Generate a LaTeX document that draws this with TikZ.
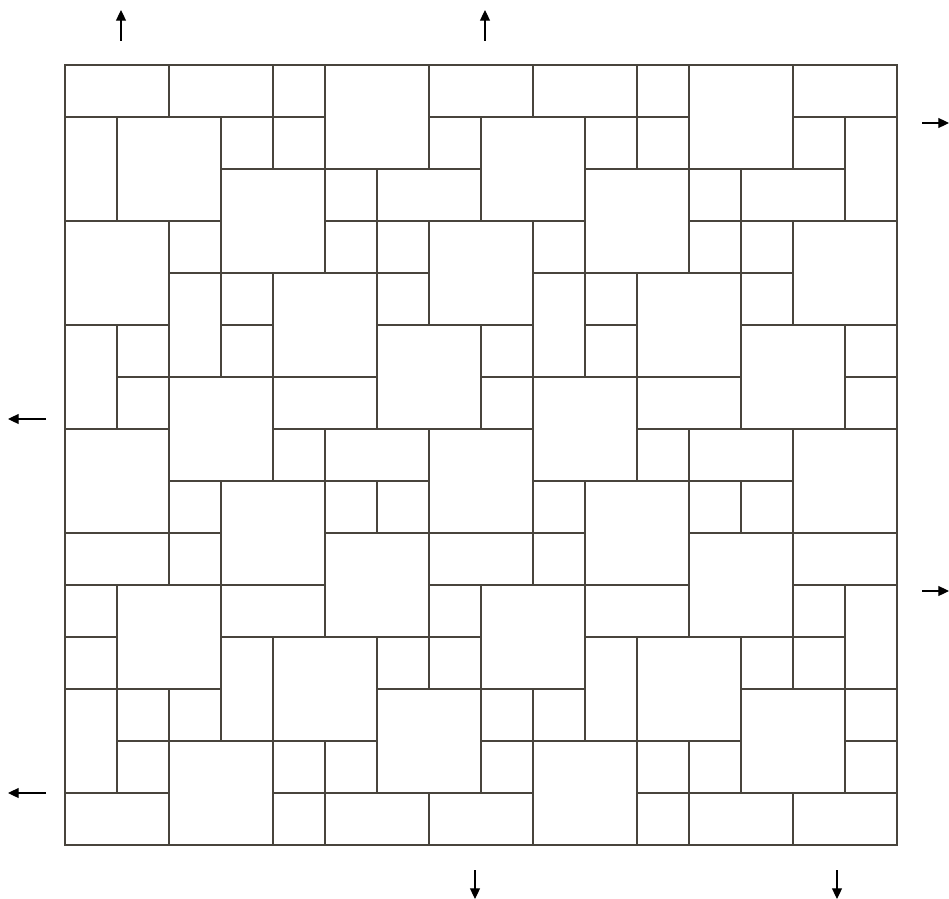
\documentclass[tikz,border=0pt]{standalone}
\usetikzlibrary{arrows.meta}
\definecolor{tileline}{RGB}{72,68,60}
\begin{document}
\begin{tikzpicture}[x=0.75pt,y=-0.75pt,
  tile/.style={draw=tileline,line width=1.5pt,line join=miter},
  shiftarrow/.style={draw=black,line width=0.8pt,-{Triangle[length=8pt,width=7.5pt]}}]
\useasboundingbox (0,0) rectangle (949,899);
\foreach \c/\r/\w/\h in {
 0/0/2/1, 2/0/2/1, 4/0/1/1, 5/0/2/2, 7/0/2/1, 9/0/2/1, 11/0/1/1, 12/0/2/2, 14/0/2/1,
 0/1/1/2, 1/1/2/2, 3/1/1/1, 4/1/1/1, 7/1/1/1, 8/1/2/2, 10/1/1/1, 11/1/1/1, 14/1/1/1, 15/1/1/2,
 3/2/2/2, 5/2/1/1, 6/2/2/1, 10/2/2/2, 12/2/1/1, 13/2/2/1,
 0/3/2/2, 2/3/1/1, 5/3/1/1, 6/3/1/1, 7/3/2/2, 9/3/1/1, 12/3/1/1, 13/3/1/1, 14/3/2/2,
 2/4/1/2, 3/4/1/1, 4/4/2/2, 6/4/1/1, 9/4/1/2, 10/4/1/1, 11/4/2/2, 13/4/1/1,
 0/5/1/2, 1/5/1/1, 3/5/1/1, 6/5/2/2, 8/5/1/1, 10/5/1/1, 13/5/2/2, 15/5/1/1,
 1/6/1/1, 2/6/2/2, 4/6/2/1, 8/6/1/1, 9/6/2/2, 11/6/2/1, 15/6/1/1,
 0/7/2/2, 4/7/1/1, 5/7/2/1, 7/7/2/2, 11/7/1/1, 12/7/2/1, 14/7/2/2,
 2/8/1/1, 3/8/2/2, 5/8/1/1, 6/8/1/1, 9/8/1/1, 10/8/2/2, 12/8/1/1, 13/8/1/1,
 0/9/2/1, 2/9/1/1, 5/9/2/2, 7/9/2/1, 9/9/1/1, 12/9/2/2, 14/9/2/1,
 0/10/1/1, 1/10/2/2, 3/10/2/1, 7/10/1/1, 8/10/2/2, 10/10/2/1, 14/10/1/1, 15/10/1/2,
 0/11/1/1, 3/11/1/2, 4/11/2/2, 6/11/1/1, 7/11/1/1, 10/11/1/2, 11/11/2/2, 13/11/1/1, 14/11/1/1,
 0/12/1/2, 1/12/1/1, 2/12/1/1, 6/12/2/2, 8/12/1/1, 9/12/1/1, 13/12/2/2, 15/12/1/1,
 1/13/1/1, 2/13/2/2, 4/13/1/1, 5/13/1/1, 8/13/1/1, 9/13/2/2, 11/13/1/1, 12/13/1/1, 15/13/1/1,
 0/14/2/1, 4/14/1/1, 5/14/2/1, 7/14/2/1, 11/14/1/1, 12/14/2/1, 14/14/2/1}
 \draw[tile] ({65+52*\c},{65+52*\r}) rectangle ++({52*\w},{52*\h});
% shift arrows
\coordinate (u1s) at (121,41); \coordinate (u1e) at (121,10);
\coordinate (u2s) at (485,41); \coordinate (u2e) at (485,10);
\coordinate (r1s) at (922,123); \coordinate (r1e) at (949,123);
\coordinate (r2s) at (922,591); \coordinate (r2e) at (949,591);
\coordinate (l1s) at (46,419); \coordinate (l1e) at (8,419);
\coordinate (l2s) at (46,793); \coordinate (l2e) at (8,793);
\coordinate (d1s) at (475,870); \coordinate (d1e) at (475,899);
\coordinate (d2s) at (837,870); \coordinate (d2e) at (837,899);
\foreach \a in {u1,u2,r1,r2,l1,l2,d1,d2}
  \draw[shiftarrow] (\a s) -- (\a e);
\end{tikzpicture}
\end{document}
